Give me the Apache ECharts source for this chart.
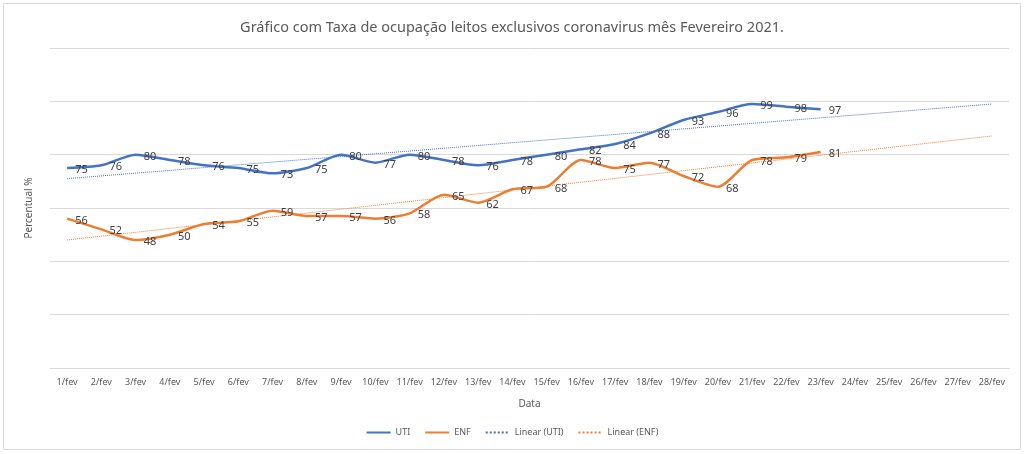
<!DOCTYPE html>
<html>
<head>
    <meta charset="utf-8">
    <title>Taxa de ocupação leitos coronavirus</title>
    <script src="https://cdn.jsdelivr.net/npm/echarts@6/dist/echarts.min.js"></script>
    <style>
        html, body { margin: 0; padding: 0; background: #fff; }
        #main { width: 1024px; height: 454px; }
    </style>
</head>
<body>
<div id="main"></div>
<script>
    // dias do mês
    var dias = ['1/fev', '2/fev', '3/fev', '4/fev', '5/fev', '6/fev', '7/fev', '8/fev', '9/fev', '10/fev',
        '11/fev', '12/fev', '13/fev', '14/fev', '15/fev', '16/fev', '17/fev', '18/fev', '19/fev', '20/fev',
        '21/fev', '22/fev', '23/fev', '24/fev', '25/fev', '26/fev', '27/fev', '28/fev'];
    // taxa de ocupação UTI (%)
    var uti = [75, 76, 80, 78, 76, 75, 73, 75, 80, 77, 80, 78, 76, 78, 80, 82, 84, 88, 93, 96, 99, 98, 97];
    // taxa de ocupação enfermaria (%)
    var enf = [56, 52, 48, 50, 54, 55, 59, 57, 57, 56, 58, 65, 62, 67, 68, 78, 75, 77, 72, 68, 78, 79, 81];
    // linhas de tendência (início 1/fev, fim 28/fev)
    var tendUti = [71, 99];
    var tendEnf = [48, 87];

    function linhaTend(ini, fim) {
        var arr = [];
        for (var i = 0; i < dias.length; i++) arr.push(null);
        arr[0] = ini;
        arr[dias.length - 1] = fim;
        return arr;
    }

    var fonte = "'Noto Sans', sans-serif";
    var myChart = echarts.init(document.getElementById('main'));

    var rotulo = { show: true, position: 'right', distance: 8, offset: [0, 2], fontSize: 11, color: '#404040' };

    var option = {
        textStyle: { fontFamily: fonte },
        title: {
            text: 'Gráfico com Taxa de ocupação leitos exclusivos coronavirus mês Fevereiro 2021.',
            left: 'center',
            top: 15,
            textStyle: { fontSize: 14.5, fontWeight: 'normal', color: '#595959', fontFamily: fonte }
        },
        graphic: [{
            type: 'rect',
            shape: { x: 3.5, y: 3.5, width: 1017, height: 446 },
            style: { fill: 'none', stroke: '#d9d9d9', lineWidth: 1 },
            silent: true
        }],
        legend: {
            bottom: 12,
            left: 'center',
            itemWidth: 24,
            itemHeight: 3,
            itemGap: 14,
            itemStyle: { opacity: 0 },
            textStyle: { fontSize: 9, color: '#595959' },
            data: ['UTI', 'ENF', 'Linear (UTI)', 'Linear (ENF)']
        },
        grid: { left: 50, right: 15, top: 48, bottom: 86 },
        xAxis: {
            type: 'category',
            data: dias,
            name: 'Data',
            nameLocation: 'middle',
            nameGap: 31,
            nameTextStyle: { fontSize: 10, color: '#595959' },
            axisLine: { lineStyle: { color: '#d9d9d9' } },
            axisTick: { show: false },
            axisLabel: { fontSize: 9, color: '#595959', margin: 10, interval: 0 }
        },
        yAxis: {
            type: 'value',
            min: 0,
            max: 120,
            interval: 20,
            name: 'Percentual %',
            nameLocation: 'middle',
            nameGap: 16,
            nameTextStyle: { fontSize: 10, color: '#595959' },
            axisLabel: { show: false },
            axisLine: { show: false },
            axisTick: { show: false },
            splitLine: { lineStyle: { color: '#d9d9d9' } }
        },
        series: [
            {
                name: 'UTI',
                type: 'line',
                data: uti,
                smooth: 0.25,
                symbol: 'circle',
                symbolSize: 0,
                lineStyle: { color: '#4472C4', width: 2.5 },
                itemStyle: { color: '#4472C4' },
                label: rotulo,
                z: 3
            },
            {
                name: 'ENF',
                type: 'line',
                data: enf,
                smooth: 0.25,
                symbol: 'circle',
                symbolSize: 0,
                lineStyle: { color: '#ED7D31', width: 2.5 },
                itemStyle: { color: '#ED7D31' },
                label: rotulo,
                z: 3
            },
            {
                name: 'Linear (UTI)',
                type: 'line',
                data: linhaTend(tendUti[0], tendUti[1]),
                connectNulls: true,
                symbol: 'none',
                lineStyle: { color: '#4472C4', width: 1, type: 'dotted' },
                itemStyle: { color: '#4472C4' },
                z: 2
            },
            {
                name: 'Linear (ENF)',
                type: 'line',
                data: linhaTend(tendEnf[0], tendEnf[1]),
                connectNulls: true,
                symbol: 'none',
                lineStyle: { color: '#ED7D31', width: 1, type: 'dotted' },
                itemStyle: { color: '#ED7D31' },
                z: 2
            }
        ]
    };

    myChart.setOption(option);
</script>
</body>
</html>
